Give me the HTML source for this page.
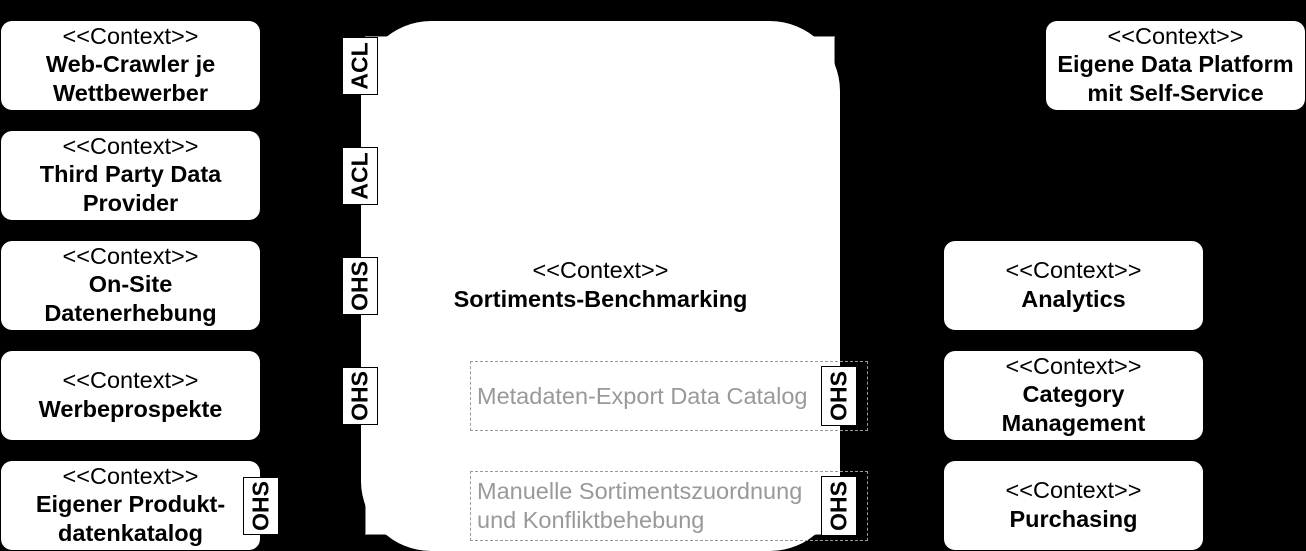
<!DOCTYPE html>
<html><head><meta charset="utf-8"><style>
body{margin:0;width:1306px;height:551px;background:#000;position:relative;overflow:hidden;font-family:"Liberation Sans",sans-serif}
.b{position:absolute;background:#fff;border-radius:11px;display:flex;align-items:center;justify-content:center;text-align:center;font-size:23.5px;line-height:28.5px;color:#000;white-space:nowrap}
.b>div{margin-top:-2px}
.b b{font-weight:bold}
.t{position:absolute;background:#fff;border:1px solid #000;width:36px;height:58px;box-sizing:border-box}
.t span{position:absolute;left:50%;top:50%;font-weight:bold;font-size:23px;white-space:nowrap;transform:translate(-50%,-50%) rotate(-90deg)}
.d{position:absolute;border:1.5px dashed #999;box-sizing:border-box;color:#999;font-size:23.5px;line-height:29px;padding-left:6px;display:flex;align-items:center;white-space:nowrap}
</style></head><body>
<div style="position:absolute;left:365px;top:36px;width:470px;height:499px;background:#fff;border:1px solid #888;box-sizing:border-box"></div>
<div style="position:absolute;left:361px;top:21px;width:479px;height:530px;background:#fff;border-radius:70px"></div>
<div style="position:absolute;left:361px;top:256px;width:479px;text-align:center;font-size:23.5px;line-height:29px;white-space:nowrap">&lt;&lt;Context&gt;&gt;<br><b>Sortiments-Benchmarking</b></div>

<div class="b" style="left:1px;top:21px;width:259px;height:89px"><div>&lt;&lt;Context&gt;&gt;<br><b>Web-Crawler je<br>Wettbewerber</b></div></div>
<div class="b" style="left:1px;top:131px;width:259px;height:89px"><div>&lt;&lt;Context&gt;&gt;<br><b>Third Party Data<br>Provider</b></div></div>
<div class="b" style="left:1px;top:241px;width:259px;height:89px"><div>&lt;&lt;Context&gt;&gt;<br><b>On-Site<br>Datenerhebung</b></div></div>
<div class="b" style="left:1px;top:351px;width:259px;height:89px"><div>&lt;&lt;Context&gt;&gt;<br><b>Werbeprospekte</b></div></div>
<div class="b" style="left:1px;top:461px;width:259px;height:89px"><div>&lt;&lt;Context&gt;&gt;<br><b>Eigener Produkt-<br>datenkatalog</b></div></div>

<div class="b" style="left:1046px;top:21px;width:259px;height:89px"><div>&lt;&lt;Context&gt;&gt;<br><b>Eigene Data Platform<br>mit Self-Service</b></div></div>
<div class="b" style="left:944px;top:241px;width:259px;height:89px"><div>&lt;&lt;Context&gt;&gt;<br><b>Analytics</b></div></div>
<div class="b" style="left:944px;top:351px;width:259px;height:89px"><div>&lt;&lt;Context&gt;&gt;<br><b>Category<br>Management</b></div></div>
<div class="b" style="left:944px;top:461px;width:259px;height:89px"><div>&lt;&lt;Context&gt;&gt;<br><b>Purchasing</b></div></div>

<div class="t" style="left:342px;top:37px"><span>ACL</span></div>
<div class="t" style="left:342px;top:147px"><span>ACL</span></div>
<div class="t" style="left:342px;top:257px"><span>OHS</span></div>
<div class="t" style="left:342px;top:367px"><span>OHS</span></div>
<div class="t" style="left:243px;top:477px"><span>OHS</span></div>

<div class="d" style="left:470px;top:361px;width:398px;height:70px">Metadaten-Export Data Catalog</div>
<div class="d" style="left:470px;top:471px;width:398px;height:70px">Manuelle Sortimentszuordnung<br>und Konfliktbehebung</div>
<div class="t" style="left:821px;top:366px;height:60px"><span>OHS</span></div>
<div class="t" style="left:821px;top:476px;height:60px"><span>OHS</span></div>
</body></html>
